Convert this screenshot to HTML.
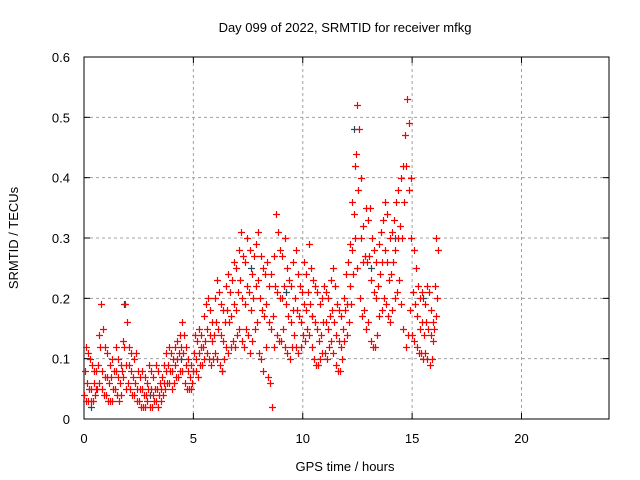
<!DOCTYPE html>
<html><head><meta charset="utf-8"><style>
body{margin:0;background:#fff;}
svg{display:block;font-family:"Liberation Sans",sans-serif;font-size:13px;}
</style></head><body>
<svg id="chart" width="640" height="480">
<text x="345" y="32" text-anchor="middle">Day 099 of 2022, SRMTID for receiver mfkg</text>
<text x="345" y="471" text-anchor="middle">GPS time / hours</text>
<text transform="translate(18,238) rotate(-90)" text-anchor="middle">SRMTID / TECUs</text>
<g id="grid"></g>
<g id="axes"></g>
<g id="marks"></g>
</svg>
<script>
const xTicks=[0,5,10,15,20];
const yTicks=[0,0.1,0.2,0.3,0.4,0.5,0.6];
const yTickLabels=["0","0.1","0.2","0.3","0.4","0.5","0.6"];
const times=[0.0,0.1,0.2,0.3,0.4,0.5,0.6,0.7,0.8,0.9,1.0,1.1,1.2,1.3,1.4,1.5,1.6,1.7,1.8,1.9,2.0,2.1,2.2,2.3,2.4,2.5,2.6,2.7,2.8,2.9,3.0,3.1,3.2,3.3,3.4,3.5,3.6,3.7,3.8,3.9,4.0,4.1,4.2,4.3,4.4,4.5,4.6,4.7,4.8,4.9,5.0,5.1,5.2,5.3,5.4,5.5,5.6,5.7,5.8,5.9,6.0,6.1,6.2,6.3,6.4,6.5,6.6,6.7,6.8,6.9,7.0,7.1,7.2,7.3,7.4,7.5,7.6,7.7,7.8,7.9,8.0,8.1,8.2,8.3,8.4,8.5,8.6,8.7,8.8,8.9,9.0,9.1,9.2,9.3,9.4,9.5,9.6,9.7,9.8,9.9,10.0,10.1,10.2,10.3,10.4,10.5,10.6,10.7,10.8,10.9,11.0,11.1,11.2,11.3,11.4,11.5,11.6,11.7,11.8,11.9,12.0,12.1,12.2,12.3,12.4,12.5,12.6,12.7,12.8,12.9,13.0,13.1,13.2,13.3,13.4,13.5,13.6,13.7,13.8,13.9,14.0,14.1,14.2,14.3,14.4,14.5,14.6,14.7,14.8,14.9,15.0,15.1,15.2,15.3,15.4,15.5,15.6,15.7,15.8,15.9,16.0,16.1];
const highVals=[.12,.11,.10,.09,.08,.08,.14,.19,.15,.12,.11,.09,.10,.08,.12,.10,.09,.13,.19,.16,.12,.11,.10,.11,.08,.07,.08,.07,.06,.09,.08,.07,.09,.08,.06,.07,.09,.11,.12,.11,.10,.12,.13,.14,.16,.14,.12,.10,.09,.08,.14,.13,.15,.14,.17,.19,.20,.18,.16,.20,.23,.21,.19,.18,.22,.24,.21,.23,.26,.25,.28,.31,.27,.26,.30,.28,.24,.27,.29,.31,.27,.25,.24,.26,.22,.24,.27,.34,.31,.28,.27,.30,.25,.23,.22,.26,.28,.24,.22,.21,.26,.24,.29,.25,.23,.22,.21,.19,.20,.22,.21,.20,.23,.25,.22,.19,.18,.17,.20,.24,.26,.29,.36,.42,.52,.48,.40,.32,.35,.33,.35,.30,.28,.26,.29,.31,.33,.36,.34,.30,.31,.33,.36,.38,.40,.42,.47,.53,.49,.40,.28,.25,.22,.20,.21,.19,.22,.21,.18,.16,.30,.28];
const midVals=[.08,.06,.05,.05,.06,.05,.09,.12,.08,.07,.07,.06,.07,.05,.08,.07,.06,.08,.12,.09,.09,.08,.07,.06,.05,.05,.05,.04,.04,.05,.05,.04,.05,.05,.04,.05,.06,.08,.09,.08,.08,.09,.10,.11,.12,.11,.09,.08,.07,.06,.11,.10,.11,.12,.12,.13,.15,.14,.13,.14,.16,.15,.14,.13,.16,.18,.16,.17,.19,.18,.21,.23,.20,.19,.22,.21,.18,.20,.22,.23,.20,.18,.17,.19,.16,.15,.17,.22,.21,.20,.20,.22,.19,.17,.16,.18,.20,.18,.17,.16,.19,.18,.21,.19,.17,.16,.15,.13,.14,.16,.16,.15,.17,.18,.16,.14,.13,.12,.15,.18,.19,.22,.28,.34,.44,.38,.30,.26,.27,.26,.27,.23,.21,.20,.22,.24,.26,.28,.26,.23,.24,.26,.28,.30,.32,.30,.36,.42,.38,.30,.21,.19,.17,.15,.16,.14,.16,.15,.14,.13,.22,.20];
const lowVals=[.04,.03,.03,.03,.03,.04,.05,.06,.05,.04,.04,.03,.03,.03,.05,.04,.03,.04,.07,.05,.06,.05,.04,.04,.03,.03,.02,.02,.02,.03,.02,.02,.03,.03,.02,.03,.04,.05,.06,.06,.05,.06,.07,.07,.08,.08,.06,.05,.05,.05,.08,.08,.07,.09,.09,.10,.11,.10,.09,.10,.11,.10,.09,.08,.10,.12,.11,.12,.13,.12,.14,.15,.13,.12,.15,.14,.11,.13,.15,.16,.11,.10,.08,.12,.07,.06,.02,.12,.14,.13,.13,.15,.12,.11,.10,.12,.14,.12,.11,.12,.14,.13,.15,.14,.12,.10,.09,.09,.10,.11,.11,.10,.12,.13,.11,.09,.08,.08,.10,.13,.14,.16,.19,.24,.30,.25,.20,.17,.18,.15,.16,.13,.12,.12,.14,.17,.18,.20,.19,.17,.16,.18,.20,.21,.23,.19,.15,.12,.14,.18,.14,.13,.12,.11,.11,.10,.11,.10,.09,.10,.15,.17];
const darkTimes=[0.3,1.8,3.0,4.4,6.3,7.6,9.2,10.4,12.3,13.1,14.2,15.5];
const darkVals=[0.02,0.19,0.04,0.10,0.08,0.25,0.21,0.17,0.48,0.25,0.30,0.20];

const L=84,R=609,T=57,B=419;
const xS=v=>L+(v/24)*(R-L);
const yS=v=>B-(v/0.6)*(B-T);
const NS="http://www.w3.org/2000/svg";
function mk(tag,attrs,parent){const e=document.createElementNS(NS,tag);for(const k in attrs)e.setAttribute(k,attrs[k]);parent.appendChild(e);return e;}
const grid=document.getElementById('grid'),axes=document.getElementById('axes'),marks=document.getElementById('marks');
xTicks.forEach(t=>{
  const x=xS(t);
  if(t>0){const g=mk('line',{x1:x,x2:x,y1:T,y2:B,stroke:'#a0a0a0','stroke-dasharray':'3,3'},grid);
  
  }
  mk('line',{x1:x,x2:x,y1:B,y2:B-6,stroke:'#000'},axes);
  mk('line',{x1:x,x2:x,y1:T,y2:T+6,stroke:'#000'},axes);
  const tx=mk('text',{x:x,y:B+24,'text-anchor':'middle'},axes);tx.textContent=String(t);
  
  
});
yTicks.forEach((t,i)=>{
  const y=yS(t);
  if(t>0&&t<0.6){const g=mk('line',{x1:L,x2:R,y1:y,y2:y,stroke:'#a0a0a0','stroke-dasharray':'3,3'},grid);
  
  }
  mk('line',{x1:L,x2:L+6,y1:y,y2:y,stroke:'#000'},axes);
  mk('line',{x1:R,x2:R-6,y1:y,y2:y,stroke:'#000'},axes);
  const tx=mk('text',{x:L-14,y:y+5,'text-anchor':'end'},axes);tx.textContent=yTickLabels[i];
  
  
});
const fr=mk('rect',{x:L,y:T,width:R-L,height:B-T,fill:'none',stroke:'#000'},axes);


function plus(t,v,col,name){
  const x=Math.round(xS(t))+0.5,y=Math.round(yS(v))+0.5;
  const p=mk('path',{d:`M${x-3.5},${y}H${x+3.5}M${x},${y-3.5}V${y+3.5}`,stroke:col,'stroke-width':1.2,fill:'none'},marks);
  
  
}
darkTimes.forEach((t,i)=>plus(t+0.02,darkVals[i],'#2a4a5a','dark-point'));
times.forEach((t,i)=>{
  plus(t,lowVals[i],'#ff0000','point-low');
  plus(t+0.04,midVals[i],'#ff0000','point-mid');
  plus(t+0.07,highVals[i],'#ff0000','point-high');
});
</script>
</body></html>
